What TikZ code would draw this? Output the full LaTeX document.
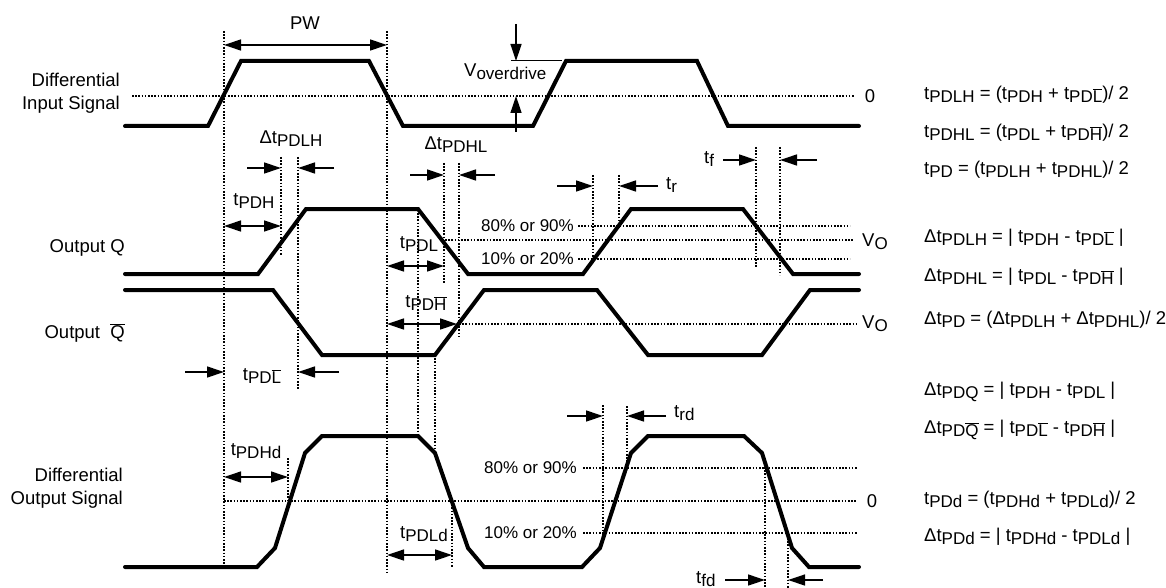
\documentclass[tikz,border=0pt]{standalone}
\usepackage{fontspec}
\setmainfont{Liberation Sans}
\usetikzlibrary{arrows.meta}
\newcommand{\subs}[1]{\raisebox{-3pt}{\fontsize{17}{17}\selectfont #1}}
\newcommand{\ob}[1]{$\overline{\mbox{#1}}$}
\begin{document}
\begin{tikzpicture}[x=1pt,y=-1pt,
  wave/.style={line width=4pt,line cap=round,line join=miter},
  dots/.style={line width=1.1pt,dash pattern=on 1.6pt off 1.6pt},
  sarrow/.style={-{Triangle[length=17pt,width=11pt]},line width=1.3pt},
  darrow/.style={{Triangle[length=17pt,width=11pt]}-{Triangle[length=17pt,width=11pt]},line width=1.3pt},
  lbl/.style={font=\fontsize{18.5}{23}\selectfont,inner sep=0pt},
  pct/.style={font=\fontsize{17}{20}\selectfont,inner sep=0pt}]
\useasboundingbox (0,0) rectangle (1166,588);
% dotted verticals
\draw[dots] (224,31) -- (224,567);
\draw[dots] (387,31) -- (387,572);
\draw[dots] (281,157) -- (281,255);
\draw[dots] (298,157) -- (298,389);
\draw[dots] (418,213) -- (418,436);
\draw[dots] (444,163) -- (444,283);
\draw[dots] (459,163) -- (459,337);
\draw[dots] (435,355) -- (435,453);
\draw[dots] (452,501) -- (452,568);
\draw[dots] (288,458) -- (288,501);
\draw[dots] (593,175) -- (593,262);
\draw[dots] (619,175) -- (619,228);
\draw[dots] (756,147) -- (756,268);
\draw[dots] (780,147) -- (780,275);
\draw[dots] (603,405) -- (603,540);
\draw[dots] (627,406) -- (627,470);
\draw[dots] (765,467) -- (765,588);
\draw[dots] (788,538) -- (788,588);
% dotted horizontals
\draw[dots] (132,96) -- (855,96);
\draw[dots] (578,226) -- (850,226);
\draw[dots] (445,240) -- (853,240);
\draw[dots] (578,259) -- (850,259);
\draw[dots] (459,324) -- (857,324);
\draw[dots] (583,468) -- (857,468);
\draw[dots] (224,501) -- (857,501);
\draw[dots] (583,533) -- (857,533);
% waveforms
\draw[wave] (125,126) -- (208,126) -- (241,61) -- (369,61) -- (403,126) -- (533,126) -- (566,61) -- (697,61) -- (728,126) -- (859,126);
\draw[wave] (125,274) -- (258,274) -- (306,209) -- (418,209) -- (468,274) -- (583,274) -- (631,209) -- (743,209) -- (793,274) -- (859,274);
\draw[wave] (125,290) -- (273,290) -- (322,355) -- (435,355) -- (484,290) -- (597,290) -- (648,355) -- (762,355) -- (810,290) -- (859,290);
\draw[wave] (125,567) -- (257,567) -- (275,548) -- (305,453) -- (322,436) -- (418,436) -- (435,453) -- (468,548) -- (484,567) -- (582,567) -- (600,548) -- (631,453) -- (648,436) -- (744,436) -- (762,453) -- (792,548) -- (809,567) -- (859,567);
% arrows
\draw[darrow] (224,45) -- (387,45);
\draw[sarrow] (516,24) -- (516,61);
\draw[sarrow] (516,132) -- (516,96);
\draw[line width=1pt] (511,61) -- (562,61);
\draw[sarrow] (247,168) -- (281,168);
\draw[sarrow] (334,168) -- (298,168);
\draw[darrow] (224,226) -- (281,226);
\draw[sarrow] (410,175) -- (444,175);
\draw[sarrow] (495,175) -- (459,175);
\draw[darrow] (387,266) -- (444,266);
\draw[darrow] (387,324) -- (457,324);
\draw[sarrow] (185,372) -- (224,372);
\draw[sarrow] (339,372) -- (298,372);
\draw[darrow] (224,477) -- (288,477);
\draw[darrow] (387,555) -- (452,555);
\draw[sarrow] (557,186) -- (593,186);
\draw[sarrow] (658,186) -- (619,186);
\draw[sarrow] (723,160) -- (756,160);
\draw[sarrow] (817,160) -- (780,160);
\draw[sarrow] (567,416) -- (603,416);
\draw[sarrow] (666,416) -- (627,416);
\draw[sarrow] (725,580) -- (765,580);
\draw[sarrow] (823,580) -- (788,580);
% left labels
\node[lbl,anchor=east,align=right] (lin) at (120,93) {Differential\\Input Signal};
\node[lbl,anchor=east] (lq) at (125,248) {Output Q};
\node[lbl,anchor=east] (lqb) at (125,333) {Output\ \ \ob{Q}};
\node[lbl,anchor=east,align=right] (lout) at (123,488) {Differential\\Output Signal};
% waveform labels
\node[lbl] (pw) at (305,23) {PW};
\node[lbl,anchor=west] (vod) at (464,72) {V\subs{overdrive}};
\node[lbl] (z1) at (870,96) {0};
\node[lbl] (z2) at (872,501) {0};
\node[lbl,anchor=west] (vo1) at (862,242) {V\subs{O}};
\node[lbl,anchor=west] (vo2) at (862,324) {V\subs{O}};
\node[pct,anchor=east] (q80) at (574,226) {80\% or 90\%};
\node[pct,anchor=east] (q10) at (574,259) {10\% or 20\%};
\node[pct,anchor=east] (d80) at (577,468) {80\% or 90\%};
\node[pct,anchor=east] (d10) at (577,533) {10\% or 20\%};
\node[lbl] (dlh) at (291,139) {Δt\subs{PDLH}};
\node[lbl] (dhl) at (456,145) {Δt\subs{PDHL}};
\node[lbl] (tph) at (254,201) {t\subs{PDH}};
\node[lbl] (tpl) at (419,244) {t\subs{PDL}};
\node[lbl] (tphb) at (426,303) {t\subs{PD\ob{H}}};
\node[lbl] (tplb) at (262,376) {t\subs{PD\ob{L}}};
\node[lbl] (tphd) at (256,451) {t\subs{PDHd}};
\node[lbl] (tpld) at (424,534) {t\subs{PDLd}};
\node[lbl,anchor=west] (tr) at (666,185) {t\subs{r}};
\node[lbl,anchor=west] (tf) at (704,159) {t\subs{f}};
\node[lbl,anchor=west] (trd) at (674,413) {t\subs{rd}};
\node[lbl,anchor=west] (tfd) at (696,579) {t\subs{fd}};
% equations
\node[lbl,anchor=west] (e1) at (924,95) {t\subs{PDLH} = (t\subs{PDH} + t\subs{PD\ob{L}})/ 2};
\node[lbl,anchor=west] (e2) at (924,133) {t\subs{PDHL} = (t\subs{PDL} + t\subs{PD\ob{H}})/ 2};
\node[lbl,anchor=west] (e3) at (924,170) {t\subs{PD} = (t\subs{PDLH} + t\subs{PDHL})/ 2};
\node[lbl,anchor=west] (e4) at (924,238) {Δt\subs{PDLH} = | t\subs{PDH} - t\subs{PD\ob{L}} |};
\node[lbl,anchor=west] (e5) at (924,277) {Δt\subs{PDHL} = | t\subs{PDL} - t\subs{PD\ob{H}} |};
\node[lbl,anchor=west] (e6) at (924,320) {Δt\subs{PD} = (Δt\subs{PDLH} + Δt\subs{PDHL})/ 2};
\node[lbl,anchor=west] (e7) at (924,392) {Δt\subs{PDQ} = | t\subs{PDH} - t\subs{PDL} |};
\node[lbl,anchor=west] (e8) at (924,430) {Δt\subs{PD\ob{Q}} = | t\subs{PD\ob{L}} - t\subs{PD\ob{H}} |};
\node[lbl,anchor=west] (e9) at (924,500) {t\subs{PDd} = (t\subs{PDHd} + t\subs{PDLd})/ 2};
\node[lbl,anchor=west] (e10) at (924,537) {Δt\subs{PDd} = | t\subs{PDHd} - t\subs{PDLd} |};
\end{tikzpicture}
\end{document}
